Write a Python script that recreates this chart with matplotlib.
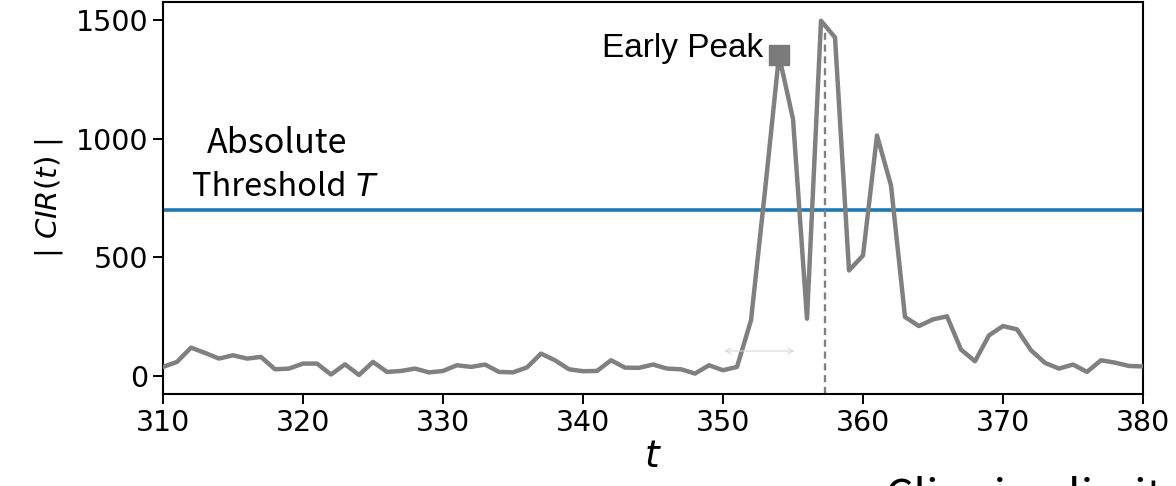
import matplotlib
matplotlib.use("Agg")
import matplotlib.pyplot as plt
import numpy as np

plt.rcParams['font.family'] = ['DejaVu Sans']
plt.rcParams['mathtext.fontset'] = 'dejavusans'

t = list(range(310, 381))
cir = [39, 60, 120, 98, 74, 88, 74, 81, 29, 32,
       53, 53, 7, 50, 5, 60, 18, 22, 32, 16,
       22, 46, 39, 49, 18, 16, 37, 95, 67, 29,
       21, 22, 67, 36, 35, 49, 32, 29, 11, 46,
       25, 39, 235, 780, 1350, 1083, 242, 1496, 1426, 445,
       508, 1013, 803, 249, 211, 239, 252, 112, 63, 172,
       211, 197, 109, 56, 32, 49, 18, 67, 57, 43,
       41]
threshold = 700
early_peak_t = 354
early_peak_v = 1350
clip_t = 357.3
clip_top = 1480

fig = plt.figure(figsize=(11.76, 4.86), dpi=100)
ax = fig.add_axes([163/1176, 1-394/486, (1143-163)/1176, (394-2)/486])

ax.plot(t, cir, color='#808080', lw=3.2, zorder=3)
ax.axhline(threshold, color='#1f77b4', lw=2.6, zorder=2)
ax.plot([early_peak_t], [early_peak_v], marker='s', ms=14, color='#7a7a7a', zorder=4)
ax.set_xlim(310, 380)
ax.set_ylim(-75, 1575)
ax.vlines(clip_t, -75, clip_top, colors='#808080', linestyles=(0, (3, 2)), lw=1.7, zorder=2)

# faint remnant arrow
ax.annotate('', xy=(349.9, 106), xytext=(355.3, 106),
            arrowprops=dict(arrowstyle='<->', color='#d8d8d8', lw=0.8))

ax.set_xticks([310, 320, 330, 340, 350, 360, 370, 380])
ax.set_yticks([0, 500, 1000, 1500])
ax.tick_params(labelsize=20.5, length=7, width=1.4)
for s in ax.spines.values():
    s.set_linewidth(1.5)

ax.set_ylabel(r'| $CIR(t)$ |', fontsize=21, labelpad=8)
ax.set_xlabel(r'$t$', fontsize=27, labelpad=2)

ax.text(352.85, 1380, 'Early Peak', ha='right', va='center', fontsize=24,
        family=['Liberation Sans', 'DejaVu Sans'])
ax.text(313.1, 941, 'Absolute', ha='left', va='baseline', fontsize=24.5,
        family=['Noto Sans CJK SC', 'DejaVu Sans'])
thr = ax.text(312.05, 760, 'Threshold', ha='left', va='baseline', fontsize=23.5,
              family=['Noto Sans CJK SC', 'DejaVu Sans'], fontweight='light')
fig.canvas.draw()
bb = thr.get_window_extent()
x_end = ax.transData.inverted().transform((bb.x1 + 9, 0))[0]
ax.text(x_end, 760, 'T', ha='left', va='baseline', fontsize=23, style='italic',
        family=['DejaVu Sans'])

fig.text(885/1176, 1-476/486, 'Clipping limit t', ha='left', va='top', fontsize=32,
         family=['Noto Sans CJK SC', 'DejaVu Sans'])

fig.savefig('out.png', dpi=100)
